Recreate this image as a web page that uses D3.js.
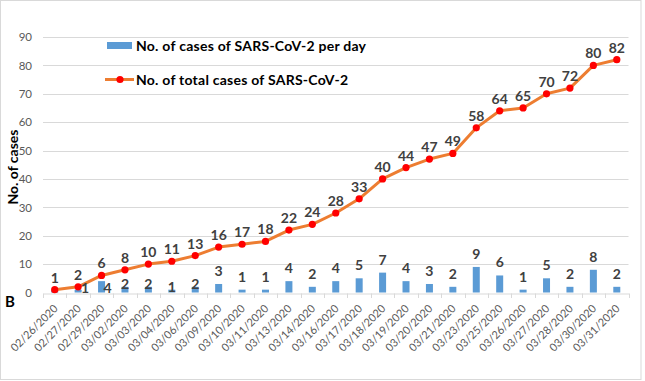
<!DOCTYPE html>
<html>
<head>
<meta charset="utf-8">
<script src="https://cdn.jsdelivr.net/npm/d3@7"></script>
<style>
  html, body { margin: 0; padding: 0; background: #fff; }
  svg { display: block; font-family: Lato, "Open Sans", sans-serif; }
</style>
</head>
<body>
<svg id="chart" width="645" height="381"></svg>
<script>
const dates = ["02/26/2020","02/27/2020","02/29/2020","03/02/2020","03/03/2020","03/04/2020","03/06/2020","03/09/2020","03/10/2020","03/11/2020","03/13/2020","03/14/2020","03/16/2020","03/17/2020","03/18/2020","03/19/2020","03/20/2020","03/21/2020","03/23/2020","03/25/2020","03/26/2020","03/27/2020","03/28/2020","03/30/2020","03/31/2020"];
const dailyCases = [1,1,4,2,2,1,2,3,1,1,4,2,4,5,7,4,3,2,9,6,1,5,2,8,2];
const totalCases = [1,2,6,8,10,11,13,16,17,18,22,24,28,33,40,44,47,49,58,64,65,70,72,80,82];
const yTicks = [0,10,20,30,40,50,60,70,80,90];
const legendLabels = ["No. of cases of SARS-CoV-2 per day", "No. of total cases of SARS-CoV-2"];
const yTitle = "No. of cases";
const panelLabel = "B";

(function () {
const svg = d3.select("#chart");
const mLeft = 43, mRight = 628.5, mTop = 37, mBottom = 292.5;

svg.append("rect").attr("x", 0.5).attr("y", 0.5).attr("width", 640.5).attr("height", 379)
  .attr("fill", "#fff").attr("stroke", "#d9d9d9");

const x = d3.scaleBand().domain(dates).range([mLeft, mRight]);
const y = d3.scaleLinear().domain([0, 90]).range([mBottom, mTop]);
const cx = d => x(d) + x.bandwidth() / 2;

// gridlines
svg.append("g").selectAll("line").data(yTicks.filter(t => t > 0)).join("line")
  .attr("x1", mLeft).attr("x2", mRight)
  .attr("y1", d => Math.round(y(d)) + 0.5).attr("y2", d => Math.round(y(d)) + 0.5)
  .attr("stroke", "#d9d9d9").attr("stroke-width", 1);

// y axis labels
const yAxis = d3.axisLeft(y).tickValues(yTicks).tickSize(0).tickPadding(11);
const yg = svg.append("g").attr("transform", `translate(${mLeft},0)`).call(yAxis);
yg.select(".domain").remove();
yg.selectAll("text").attr("fill", "#595959").attr("font-size", 11.5).attr("font-family", "Lato, sans-serif");

// x axis
const xAxis = d3.axisBottom(x).tickSize(0).tickFormat(d => d);
const xg = svg.append("g").attr("transform", `translate(0,${Math.round(mBottom) + 0.5})`).call(xAxis);
xg.select(".domain").attr("stroke", "#d9d9d9");
xg.selectAll("text")
  .attr("fill", "#595959").attr("font-size", 11).attr("font-family", "Lato, sans-serif")
  .attr("text-anchor", "end")
  .attr("transform", "translate(1,13) rotate(-45)")
  .attr("dy", "0.35em").attr("y", 0).attr("x", 0);
// tick marks at band boundaries
svg.append("g").selectAll("line").data(d3.range(dates.length + 1)).join("line")
  .attr("x1", i => Math.round(mLeft + i * x.step()) + 0.5)
  .attr("x2", i => Math.round(mLeft + i * x.step()) + 0.5)
  .attr("y1", Math.round(mBottom) + 0.5).attr("y2", Math.round(mBottom) + 5)
  .attr("stroke", "#d9d9d9");

// bars
const barW = 7;
svg.append("g").selectAll("rect").data(dates).join("rect")
  .attr("x", d => cx(d) - barW / 2)
  .attr("y", (d, i) => y(dailyCases[i]))
  .attr("width", barW)
  .attr("height", (d, i) => y(0) - y(dailyCases[i]))
  .attr("fill", "#5b9bd5");

// line
const line = d3.line().x((d, i) => cx(dates[i])).y(d => y(d));
svg.append("path").datum(totalCases).attr("d", line)
  .attr("fill", "none").attr("stroke", "#ed7d31").attr("stroke-width", 3).attr("stroke-linejoin", "round");
svg.append("g").selectAll("circle").data(totalCases).join("circle")
  .attr("cx", (d, i) => cx(dates[i])).attr("cy", d => y(d)).attr("r", 3.6)
  .attr("fill", "#ff0000");

// labels for total
svg.append("g").selectAll("text").data(totalCases).join("text")
  .attr("x", (d, i) => cx(dates[i]))
  .attr("y", d => y(d) - 7)
  .attr("text-anchor", "middle")
  .attr("font-size", 14).attr("font-weight", "bold").attr("fill", "#404040")
  .text(d => d);

// labels for daily
svg.append("g").selectAll("text").data(dailyCases.map((v, i) => ({v, i})).filter(o => o.i > 0)).join("text")
  .attr("x", o => {
    const c = cx(dates[o.i]);
    if (o.i === 1) return c + 7;
    if (o.i === 2) return c + 6;
    return c;
  })
  .attr("y", o => {
    if (o.i === 1 || o.i === 2) return y(0);
    if (o.i >= 3 && o.i <= 6) return y(o.v) + 2;
    return y(o.v) - 8;
  })
  .attr("text-anchor", "middle")
  .attr("font-size", 14).attr("font-weight", "bold").attr("fill", "#404040")
  .text(o => o.v);

// legend
const lg = svg.append("g");
lg.append("rect").attr("x", 107).attr("y", 42).attr("width", 25).attr("height", 7).attr("fill", "#5b9bd5");
lg.append("text").attr("x", 136).attr("y", 46).attr("dy", "0.35em")
  .attr("font-size", 14).attr("font-weight", "bold").attr("fill", "#000")
  .attr("textLength", 230).attr("lengthAdjust", "spacing").text(legendLabels[0]);
lg.append("line").attr("x1", 105).attr("x2", 134).attr("y1", 79.5).attr("y2", 79.5)
  .attr("stroke", "#ed7d31").attr("stroke-width", 3);
lg.append("circle").attr("cx", 120).attr("cy", 79.5).attr("r", 3.6).attr("fill", "#ff0000");
lg.append("text").attr("x", 136).attr("y", 80).attr("dy", "0.35em")
  .attr("font-size", 14).attr("font-weight", "bold").attr("fill", "#000")
  .attr("textLength", 212).attr("lengthAdjust", "spacing").text(legendLabels[1]);

// y title
svg.append("text").attr("transform", "translate(13,167) rotate(-90)")
  .attr("text-anchor", "middle").attr("dy", "0.35em")
  .attr("font-size", 14).attr("font-weight", "bold").attr("fill", "#000").text(yTitle);

// panel label
svg.append("text").attr("x", 5).attr("y", 307)
  .attr("font-size", 15).attr("font-weight", "bold").attr("fill", "#000").text(panelLabel);
})();
</script>
</body>
</html>
